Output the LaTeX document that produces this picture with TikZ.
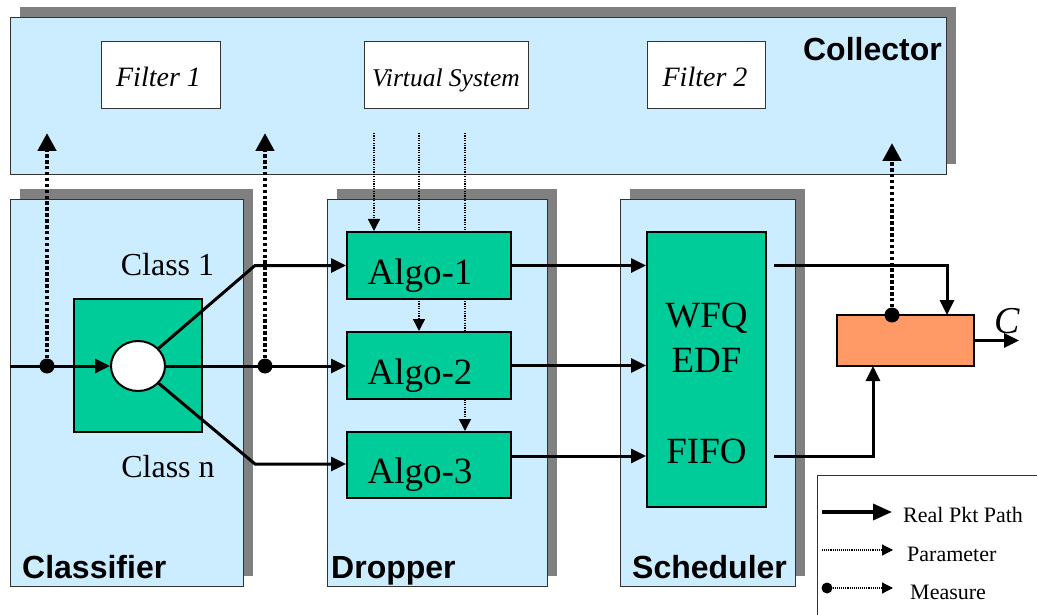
\documentclass[tikz,border=0pt]{standalone}
\usepackage{fontspec}
\setmainfont{Liberation Serif}
\newfontfamily\sansb{Liberation Sans}
\usetikzlibrary{arrows.meta,shapes.geometric,shadows}
\definecolor{lblue}{HTML}{CCECFF}
\definecolor{sgreen}{HTML}{00CC99}
\definecolor{shgray}{HTML}{808080}
\definecolor{orng}{HTML}{FF9966}
\definecolor{edgec}{HTML}{333333}
\pgfdeclarelayer{bg}\pgfdeclarelayer{mid}\pgfsetlayers{bg,mid,main}
\begin{document}
\begin{tikzpicture}[x=1pt,y=-1pt,
  panel/.style={draw=edgec, line width=0.8pt, fill=lblue, inner sep=0pt, outer sep=0pt,
    general shadow={fill=shgray, shadow xshift=10pt, shadow yshift=10pt}},
  filt/.style={draw=edgec, line width=0.8pt, fill=white, minimum height=67pt, inner sep=0pt},
  gbox/.style={draw=black, line width=2pt, fill=sgreen, inner sep=0pt},
  lab/.style={font=\sansb\bfseries\fontsize{32}{36}\selectfont, inner sep=0pt},
  gtext/.style={font=\fontsize{37}{40}\selectfont, inner sep=0pt, anchor=base},
  ctext/.style={font=\fontsize{32}{36}\selectfont, inner sep=0pt, anchor=base},
  ftext/.style={font=\itshape\fontsize{28}{32}\selectfont, inner sep=0pt, anchor=base},
  legtext/.style={font=\fontsize{22}{24}\selectfont, inner sep=0pt, anchor=base west},
  real/.style={line width=3pt, -{Triangle[length=15pt,width=14pt]}},
  realbig/.style={line width=3.5pt, -{Triangle[length=19pt,width=16pt]}},
  measure/.style={line width=4.5pt, dash pattern=on 3.5pt off 2.4pt, -{Triangle[length=18pt,width=18pt]}},
  param/.style={line width=1.5pt, dash pattern=on 1.3pt off 1.1pt, -{Triangle[length=12pt,width=12pt]}},
  paramsmall/.style={line width=1.2pt, dash pattern=on 1.1pt off 1pt, -{Triangle[length=11pt,width=11pt]}},
  dot/.style={circle, fill=black, inner sep=0pt, minimum size=15pt},
  smalldot/.style={circle, fill=black, inner sep=0pt, minimum size=11pt}
]
\useasboundingbox (0,0) rectangle (1037,615);

% panels
\begin{pgfonlayer}{bg}
\node[panel, minimum width=936pt, minimum height=157pt] (collector) at (478,95.5) {};
\node[panel, minimum width=233pt, minimum height=387pt] (classifier) at (126.5,392.5) {};
\node[panel, minimum width=220pt, minimum height=387pt] (dropper) at (437,392.5) {};
\node[panel, minimum width=175pt, minimum height=387pt] (scheduler) at (707.5,392.5) {};
\end{pgfonlayer}

% panel labels
\node[lab, anchor=base east] (lcol) at (942,61) {Collector};
\node[lab, anchor=base west] (lcls) at (22,578) {Classifier};
\node[lab, anchor=base west] (ldrp) at (331,578) {Dropper};
\node[lab, anchor=base west] (lsch) at (632,578) {Scheduler};

% collector boxes
\node[filt, minimum width=119pt] (f1) at (160.5,74.5) {};
\node[filt, minimum width=164pt] (vs) at (446,74.5) {};
\node[filt, minimum width=118pt] (f2) at (706,74.5) {};
\node[ftext] (tf1) at (158.5,87) {Filter 1};
\node[ftext, font=\itshape\fontsize{25.5}{30}\selectfont] (tvs) at (446,87) {Virtual System};
\node[ftext] (tf2) at (705,87) {Filter 2};

% classifier
\node[gbox, minimum width=128pt, minimum height=133pt] (cbox) at (138,365.5) {};
\node[draw=black, line width=2pt, fill=white, ellipse, minimum width=54pt, minimum height=50pt, inner sep=0pt] (circ) at (138,366) {};
\node[ctext] (tc1) at (167.5,275) {Class 1};
\node[ctext] (tcn) at (168,477) {Class n};

% dropper
\node[gbox, minimum width=164pt, minimum height=67pt] (algo1) at (429,265.5) {};
\node[gbox, minimum width=164pt, minimum height=67pt] (algo2) at (429,365.5) {};
\node[gbox, minimum width=164pt, minimum height=66pt] (algo3) at (429,465) {};
\node[gtext] (ta1) at (420,284) {Algo-1};
\node[gtext] (ta2) at (420,384) {Algo-2};
\node[gtext] (ta3) at (420,483) {Algo-3};

% scheduler
\node[gbox, minimum width=119pt, minimum height=275pt] (wfqbox) at (706.5,369.5) {};
\node[gtext] (twfq) at (706.5,327) {WFQ};
\node[gtext] (tedf) at (706.5,372) {EDF};
\node[gtext] (tfifo) at (706.5,463) {FIFO};

% output combiner
\node[draw=black, line width=2pt, fill=orng, minimum width=137pt, minimum height=51pt, inner sep=0pt] (orange) at (905.5,340.5) {};
\node[font=\itshape\fontsize{38}{40}\selectfont, inner sep=0pt, anchor=base] (tC) at (1007,333) {C};

% coordinates
\coordinate (src) at (10,366);
\coordinate (k1) at (255,265.5);
\coordinate (kn) at (255,464);
\coordinate (c1) at (47,133);
\coordinate (c2) at (265,133);
\coordinate (c3) at (892,143);
\coordinate (v1) at (374,133);
\coordinate (v2) at (419,133);
\coordinate (v3) at (465,133);
\coordinate (o3) at (511,456);
\coordinate (s1) at (774,265.5);
\coordinate (s2) at (774,456);
\coordinate (t1) at (947,315);
\coordinate (t2) at (873,366);
\coordinate (cout) at (1019,340.5);

% parameter lines (behind algo boxes)
\begin{pgfonlayer}{mid}
\draw[param] (v1) -- (v1 |- algo1.north);
\draw[param] (v2) -- (v2 |- algo2.north);
\draw[param] (v3) -- (v3 |- algo3.north);
\end{pgfonlayer}

% real packet path
\draw[real] (src) -- (circ.west);
\draw[real] (circ) -- (k1) -- (k1 -| algo1.west);
\draw[real] (circ.east) -- (circ.east -| algo2.west);
\draw[real] (circ) -- (kn) -- (kn -| algo3.west);
\draw[real] (algo1.east) -- (algo1.east -| wfqbox.west);
\draw[real] (algo2.east) -- (algo2.east -| wfqbox.west);
\draw[real] (o3) -- (o3 -| wfqbox.west);
\draw[real] (s1) -| (t1);
\draw[real] (s2) -| (t2);
\draw[real] (orange.east) -- (cout);

% measures
\node[dot] (m1) at (47,366) {};
\node[dot] (m2) at (265,366) {};
\node[dot] (m3) at (892,315) {};
\draw[measure] (m1) -- (c1);
\draw[measure] (m2) -- (c2);
\draw[measure] (m3) -- (c3);

% legend
\node[draw=edgec, line width=0.8pt, fill=white, minimum width=224pt, minimum height=146pt, inner sep=0pt] (legend) at (929,548) {};
\coordinate (la1) at (822,512);
\coordinate (la2) at (892,512);
\coordinate (lb1) at (822,550);
\coordinate (lb2) at (893,550);
\coordinate (lc2) at (893,588);
\draw[realbig] (la1) -- (la2);
\node[legtext] (lt1) at (903,522) {Real Pkt Path};
\draw[paramsmall] (lb1) -- (lb2);
\node[legtext] (lt2) at (907,561) {Parameter};
\node[smalldot] (lcd) at (827,588) {};
\draw[paramsmall] (lcd) -- (lc2);
\node[legtext] (lt3) at (910,599) {Measure};
\end{tikzpicture}
\end{document}
